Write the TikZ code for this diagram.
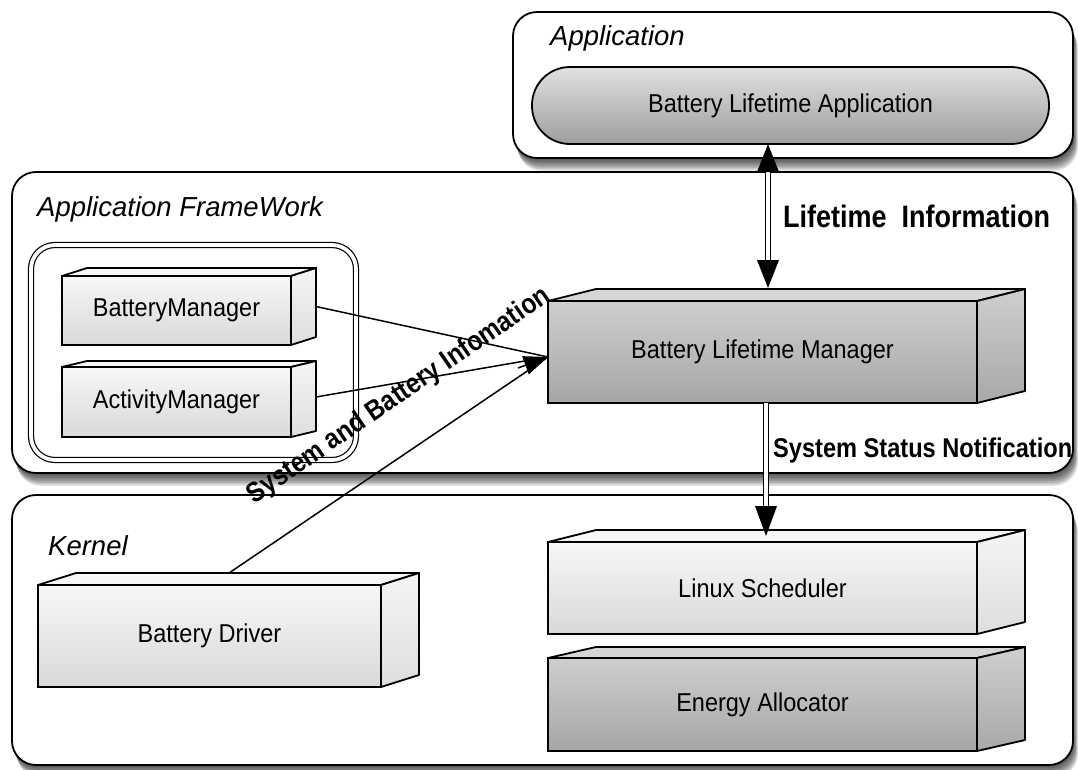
\documentclass[tikz,border=0pt]{standalone}
\usepackage{fontspec}
\setmainfont{Liberation Sans}
\usetikzlibrary{calc,arrows.meta}
\tikzset{
  frame/.style={draw=black, line width=1.8pt, fill=white, rounded corners=24pt, inner sep=0pt, outer sep=0pt, anchor=north west},
  cubefront/.style={draw=black, line width=1.8pt, inner sep=0pt, outer sep=0pt, font=\fontsize{23.5}{28}\selectfont},
  cubeedge/.style={draw=black, line width=1.8pt, line join=round},
  light/.style={top color=black!3, bottom color=black!15},
  light top/.style={fill=black!3},
  light side/.style={top color=black!4, bottom color=black!13},
  dark/.style={top color=black!19, bottom color=black!35},
  dark top/.style={fill=black!16},
  dark side/.style={top color=black!19, bottom color=black!34},
  title/.style={font=\itshape\fontsize{27.5}{32}\selectfont, inner sep=0pt, anchor=base west},
  boldlabel/.style={font=\bfseries\fontsize{27}{32}\selectfont, inner sep=0pt, anchor=base west},
  conn/.style={draw=black, line width=1.5pt},
  dblshaft/.style={draw=black, double=white, double distance=3.5pt, line width=1.4pt},
  tiphead/.style={fill=black},
}
\newcommand{\tallt}[1]{\scalebox{1}[1.1]{#1}}
\newcommand{\tallb}[1]{\scalebox{1}[1.15]{#1}}
\newcommand{\cuboid}[9]{%
  \node[cubefront,#8,anchor=north west,minimum width={#4-#2},minimum height={#5-#3}] (#1) at (#2,#3) {\tallt{#9}};
  \draw[cubeedge,#8 top] (#1.north west) -- ++(#6,#7) -- ($(#1.north east)+(#6,#7)$) -- (#1.north east) -- cycle;
  \draw[cubeedge,#8 side] (#1.north east) -- ++(#6,#7) -- ($(#1.south east)+(#6,#7)$) -- (#1.south east) -- cycle;
}
\newcommand{\softshadow}[4]{%
  \foreach \i in {1,...,8} {
    \fill[black, opacity=0.12, rounded corners=24pt] ($(#1,#2)+(\i*0.6,\i*1.6)$) rectangle ($(#3,#4)+(\i*0.6,\i*1.6)$);
  }
}
\begin{document}
\begin{tikzpicture}[x=1pt,y=-1pt]
\useasboundingbox (0,0) rectangle (1078,769);

% ---------- Application layer ----------
\softshadow{513}{12}{1073}{158}
\node[frame, minimum width=560, minimum height=146] (appframe) at (513,12) {};
\node[title] (apptitle) at (550,45) {Application};
\node[draw=black, line width=1.8pt, rounded corners=38pt, minimum width=517, minimum height=77,
      inner sep=0pt, outer sep=0pt, top color=black!12, bottom color=black!38,
      font=\fontsize{23.5}{28}\selectfont] (pill) at (790.5,105.5) {\tallt{Battery Lifetime Application}};

% ---------- Application FrameWork layer ----------
\softshadow{12}{172}{1073}{473}
\node[frame, minimum width=1061, minimum height=301] (fwframe) at (12,172) {};
\node[title] (fwtitle) at (37,216) {Application FrameWork};
\node[draw=black, line width=1.2pt, double=white, double distance=3.8pt, rounded corners=24pt,
      anchor=north west, minimum width=325, minimum height=215, inner sep=0pt, outer sep=0pt] (group) at (31,245) {};
\cuboid{bm}{62}{276}{291}{345}{25}{-8}{light}{BatteryManager}
\cuboid{am}{62}{367}{291}{437}{25}{-6}{light}{ActivityManager}
\cuboid{blm}{548}{301}{977}{403}{48}{-12}{dark}{Battery Lifetime Manager}

% ---------- Kernel layer ----------
\softshadow{12}{495}{1073}{765}
\node[frame, minimum width=1061, minimum height=270] (kframe) at (12,495) {};
\node[title] (ktitle) at (48,555) {Kernel};
\cuboid{bd}{38}{585}{381}{687}{38}{-12}{light}{Battery Driver}
\cuboid{linux}{548}{542}{977}{634}{48}{-12}{light}{Linux Scheduler}
\cuboid{ea}{548}{658}{977}{751}{48}{-11}{dark}{Energy Allocator}

% ---------- Lifetime Information (double arrow) ----------
\coordinate (lifeBot) at ($(blm.north)+(5.5,-13)$);
\coordinate (lifeTop) at (lifeBot |- pill.south);
\draw[dblshaft] ($(lifeTop)+(0,26)$) -- ($(lifeBot)+(0,-26)$);
\fill[tiphead] (lifeTop) -- ++(-11,28) -- ++(22,0) -- cycle;
\fill[tiphead] (lifeBot) -- ++(-11,-28) -- ++(22,0) -- cycle;
\node[boldlabel] (lifelabel) at (783,227) {\tallb{Lifetime\ \ Information}};

% ---------- System Status Notification ----------
\coordinate (ssnTop) at ($(blm.south)+(3.5,0)$);
\coordinate (ssnTip) at ($(linux.north)+(3.5,-6)$);
\draw[dblshaft] (ssnTop) -- ($(ssnTip)+(0,-26)$);
\fill[tiphead] (ssnTip) -- ++(-11,-30) -- ++(22,0) -- cycle;
\node[boldlabel, font=\bfseries\fontsize{23.6}{28}\selectfont] (ssnlabel) at (773,457) {\tallb{System Status Notification}};

% ---------- System and Battery Information ----------
\coordinate (conv) at ($(blm.west)+(0,5)$);
\coordinate (bmOut) at ($(bm.east)+(25,-4)$);
\coordinate (amOut) at ($(am.east)+(25,-5)$);
\coordinate (bdOut) at ($(bd.north west)+(191,-12)$);
\draw[conn] (bmOut) -- (conv);
\draw[conn] (amOut) -- (conv);
\draw[conn] (bdOut) -- (conv);
\draw[conn, -{Triangle[length=24pt,width=19pt]}] ($(conv)+(-30,11)$) -- (conv);
\node[rotate=34.5, inner sep=0pt, font=\bfseries\fontsize{24.5}{28}\selectfont] (sbilabel) at (399,396) {\tallb{System and Battery Infomation}};
\end{tikzpicture}
\end{document}
